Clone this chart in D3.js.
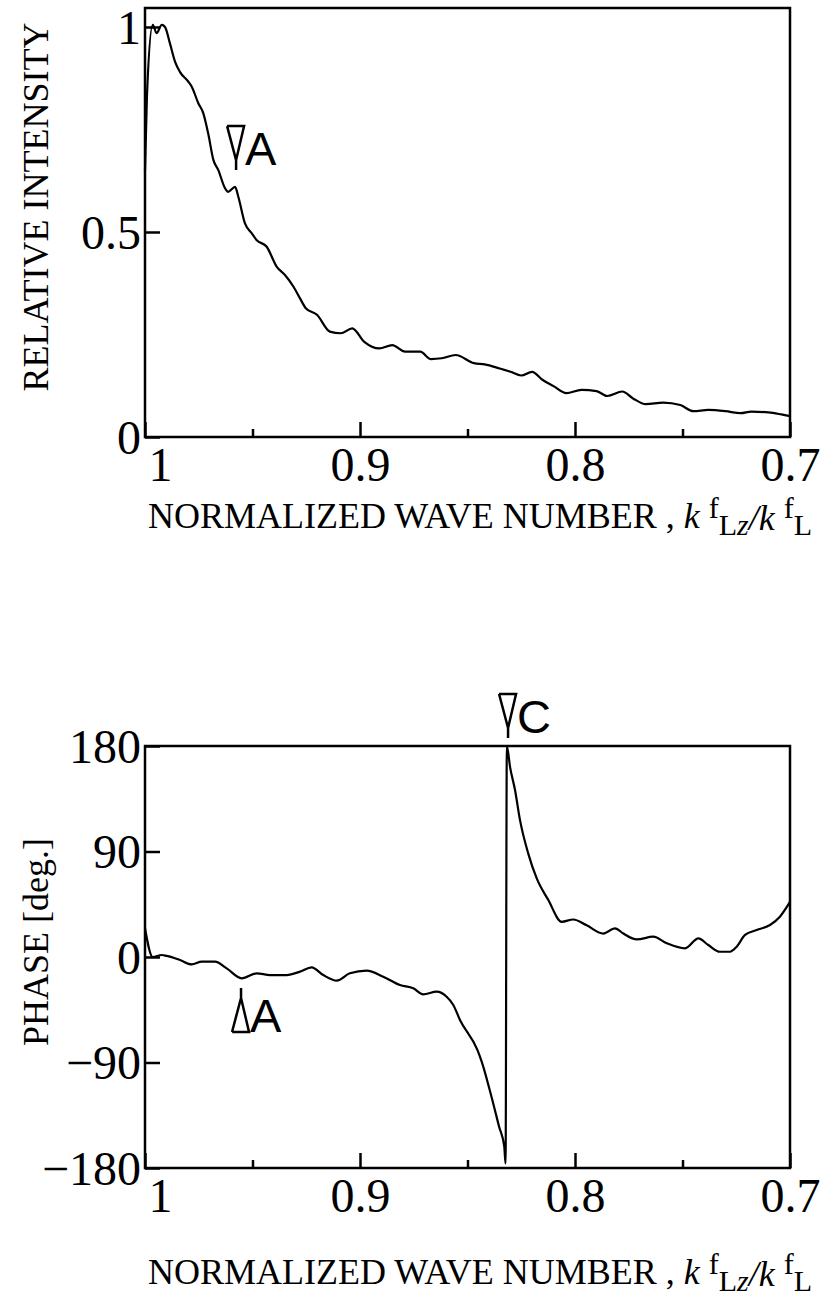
<!DOCTYPE html>
<html>
<head>
<meta charset="utf-8">
<script src="https://cdn.jsdelivr.net/npm/d3@7"></script>
<style>
  body { margin: 0; background: #fff; }
  svg { display: block; }
</style>
</head>
<body>
<div id="chart"></div>
<script>
// relative intensity vs normalized wave number
var intensityK = [1.0, 0.9991, 0.9964, 0.9946, 0.9922, 0.9907, 0.9884, 0.986, 0.9837, 0.9799,
  0.9783, 0.9752, 0.9729, 0.9706, 0.9682, 0.9659, 0.9628, 0.9613, 0.9581, 0.9566,
  0.9535, 0.9504, 0.948, 0.9434, 0.9387, 0.9349, 0.931, 0.9279, 0.9252, 0.920,
  0.914, 0.909, 0.9036, 0.898, 0.891, 0.885, 0.879, 0.872, 0.867, 0.862,
  0.8555, 0.847, 0.842, 0.835, 0.830, 0.825, 0.820, 0.815, 0.810, 0.804,
  0.797, 0.790, 0.785, 0.778, 0.773, 0.767, 0.759, 0.751, 0.745, 0.738,
  0.730, 0.723, 0.718, 0.710, 0.704, 0.700];
var intensity = [0.65, 0.83, 1.005, 0.985, 1.005, 1.0, 0.96, 0.915, 0.89, 0.867,
  0.855, 0.814, 0.79, 0.74, 0.676, 0.651, 0.607, 0.598, 0.61, 0.586,
  0.521, 0.497, 0.48, 0.464, 0.415, 0.395, 0.367, 0.338, 0.314, 0.298,
  0.257, 0.253, 0.265, 0.232, 0.216, 0.224, 0.208, 0.208, 0.19, 0.192,
  0.2, 0.18, 0.177, 0.167, 0.159, 0.15, 0.159, 0.139, 0.124, 0.107,
  0.115, 0.112, 0.1, 0.111, 0.094, 0.08, 0.084, 0.078, 0.063, 0.066,
  0.063, 0.058, 0.062, 0.06, 0.055, 0.051];

// phase [deg.] vs normalized wave number
var phaseK = [1.0, 0.9964, 0.9922, 0.9899, 0.9837, 0.9783, 0.9736, 0.9674, 0.962, 0.955,
  0.948, 0.9419, 0.9341, 0.9279, 0.9225, 0.9171, 0.9108, 0.9047, 0.8969, 0.8892,
  0.8814, 0.8752, 0.8706, 0.8643, 0.8597, 0.8566, 0.8535, 0.8454, 0.8434, 0.8393,
  0.8353, 0.8329, 0.8323, 0.8317, 0.8302, 0.8279, 0.8256, 0.8217, 0.8178, 0.8124,
  0.8062, 0.8008, 0.7946, 0.7868, 0.7814, 0.7775, 0.7713, 0.7636, 0.7573, 0.7488,
  0.7426, 0.738, 0.7326, 0.7279, 0.7248, 0.7209, 0.7155, 0.7093, 0.7047, 0.700];
var phase = [24.5, 0, 1.7, 0.9, -2.6, -6.3, -4, -4, -9.7, -18.2,
  -13.9, -15.4, -15.4, -12.5, -8.8, -15.4, -20.2, -13.9, -11.7, -16.8,
  -23.9, -26.7, -31.8, -29.6, -33.9, -40.9, -53.7, -79.3, -89.3, -116,
  -144.8, -161.8, -176, 180, 162, 142.5, 117, 88, 67, 48.6,
  30, 32, 27, 20, 24.5, 20, 15, 17.3, 11.7, 7.4,
  15.9, 10.2, 4.5, 4.5, 8.8, 18.8, 23, 27.3, 34.4, 47];

// axis ticks
var kTicks = [1, 0.9, 0.8, 0.7];
var kTickLabels = ["1", "0.9", "0.8", "0.7"];
var kMinorTicks = [0.95, 0.85, 0.75];
var intensityTicks = [0, 0.5, 1];
var intensityTickLabels = ["0", "0.5", "1"];
var phaseTicks = [-180, -90, 0, 90, 180];
var phaseTickLabels = ["\u2212180", "\u221290", "0", "90", "180"];

// marked points
var intensityMarkLabels = ["A"];
var intensityMarkK = [0.9581];
var intensityMarkY = [0.651];
var phaseMarkLabels = ["A", "C"];
var phaseMarkK = [0.9558, 0.8316];
var phaseMarkY = [-26.4, 186.8];
var phaseMarkDir = ["up", "down"];

var serif = "'Liberation Serif', 'Times New Roman', serif";
var sans = "'Liberation Sans', Arial, sans-serif";

var svg = d3.select("#chart").append("svg")
  .attr("width", 833)
  .attr("height", 1297);

var x = d3.scaleLinear().domain([1, 0.7]).range([145, 790]);
var yTop = d3.scaleLinear().domain([0, 1.0463]).range([437, 8]);
var yBot = d3.scaleLinear().domain([-180, 180]).range([1168, 746]);

function drawPanel(y, yTicks, yLabels, kVals, vals, titleY, yTitle, yTitleY) {
  var g = svg.append("g");
  var bottom = y.range()[0];

  // y axis, ticks pointing in
  var yAxis = g.append("g")
    .attr("transform", "translate(145,0)")
    .call(d3.axisLeft(y).tickValues(yTicks).tickSize(-15).tickPadding(4)
      .tickFormat(function (d, i) { return yLabels[i]; }));
  yAxis.select(".domain").remove();
  yAxis.selectAll(".tick line").attr("stroke-width", 2.5);
  yAxis.selectAll(".tick text")
    .attr("dy", "0.34em")
    .style("font-family", serif)
    .style("font-size", "48px")
    .attr("fill", "#000");

  // x axis, major + minor
  var xAxis = g.append("g")
    .attr("transform", "translate(0," + bottom + ")")
    .call(d3.axisBottom(x).tickValues(kTicks).tickSize(-15).tickPadding(10)
      .tickFormat(function (d, i) { return kTickLabels[i]; }));
  xAxis.select(".domain").remove();
  xAxis.selectAll(".tick line").attr("stroke-width", 2.5);
  xAxis.selectAll(".tick text")
    .style("font-family", serif)
    .style("font-size", "48px")
    .attr("fill", "#000")
    .attr("dx", function (d, i) { return i === 0 ? 15 : 0; });

  var minor = g.append("g")
    .attr("transform", "translate(0," + bottom + ")")
    .call(d3.axisBottom(x).tickValues(kMinorTicks).tickSize(-8).tickFormat(""));
  minor.select(".domain").remove();
  minor.selectAll(".tick line").attr("stroke-width", 2.5);

  // frame
  g.append("rect")
    .attr("x", 145)
    .attr("y", y.range()[1])
    .attr("width", 790 - 145)
    .attr("height", bottom - y.range()[1])
    .attr("fill", "none")
    .attr("stroke", "#000")
    .attr("stroke-width", 2.5);

  var line = d3.line()
    .x(function (d, i) { return x(kVals[i]); })
    .y(function (d) { return y(d); })
    .curve(d3.curveMonotoneX);

  g.append("path")
    .datum(vals)
    .attr("d", line)
    .attr("fill", "none")
    .attr("stroke", "#000")
    .attr("stroke-width", 2.2);

  // x title
  var t = g.append("text")
    .attr("x", 148)
    .attr("y", titleY)
    .style("font-family", serif)
    .style("font-size", "36px");
  t.append("tspan").text("NORMALIZED WAVE NUMBER , ");
  t.append("tspan").style("font-style", "italic").text("k");
  t.append("tspan").attr("dx", 9).attr("dy", -10).style("font-size", "30px").text("f");
  t.append("tspan").attr("dy", 17).style("font-size", "30px").text("L");
  t.append("tspan").style("font-size", "30px").style("font-style", "italic").text("z");
  t.append("tspan").attr("dy", -5).style("font-style", "italic").text("/k");
  t.append("tspan").attr("dx", 9).attr("dy", -12).style("font-size", "30px").text("f");
  t.append("tspan").attr("dy", 17).style("font-size", "30px").text("L");

  // y title
  g.append("text")
    .attr("transform", "translate(48," + yTitleY + ") rotate(-90)")
    .attr("text-anchor", "middle")
    .style("font-family", serif)
    .style("font-size", "36px")
    .text(yTitle);

  return g;
}

var topPanel = drawPanel(yTop, intensityTicks, intensityTickLabels, intensityK, intensity,
  528, "RELATIVE INTENSITY", 207);
var botPanel = drawPanel(yBot, phaseTicks, phaseTickLabels, phaseK, phase,
  1284, "PHASE [deg.]", 942);

// pointer markers: narrow triangle with a short stem ending at the point
function marker(g, px, py, dir, label) {
  var s = dir === "down" ? 1 : -1;
  var m = g.append("g").attr("transform", "translate(" + px + "," + py + ")");
  m.append("path")
    .attr("d", "M-8," + (-44 * s) + "H9L1," + (-10 * s) + "V0" +
      "M1," + (-10 * s) + "L-8," + (-44 * s))
    .attr("fill", "none")
    .attr("stroke", "#000")
    .attr("stroke-width", 2.5)
    .attr("stroke-linejoin", "miter");
  m.append("text")
    .attr("x", 10)
    .attr("y", dir === "down" ? -5 : 44)
    .style("font-family", sans)
    .style("font-size", "47px")
    .text(label);
}

intensityMarkLabels.forEach(function (l, i) {
  marker(topPanel, x(intensityMarkK[i]), yTop(intensityMarkY[i]), "down", l);
});
phaseMarkLabels.forEach(function (l, i) {
  marker(botPanel, x(phaseMarkK[i]), yBot(phaseMarkY[i]), phaseMarkDir[i], l);
});
</script>
</body>
</html>
